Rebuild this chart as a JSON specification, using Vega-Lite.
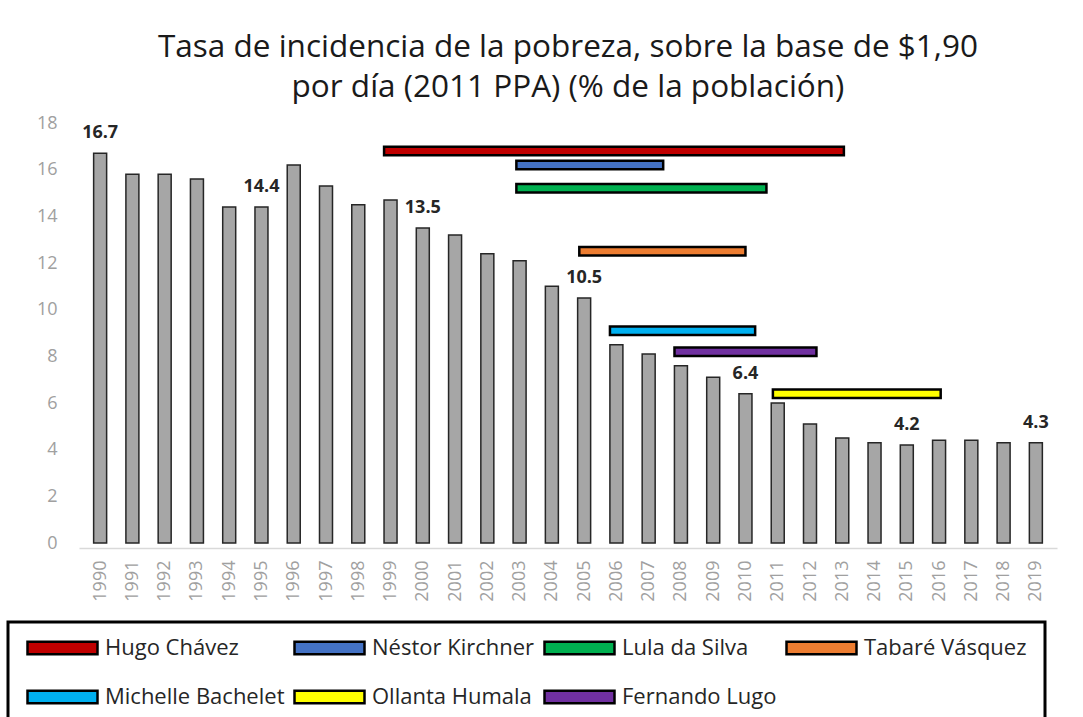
{
  "$schema": "https://vega.github.io/schema/vega-lite/v6.json",
  "autosize": {"type": "none"},
  "padding": {"left": 79, "top": 118, "right": 26, "bottom": 169},
  "width": 978,
  "height": 430,
  "background": "white",
  "config": {
    "view": {"stroke": null},
    "font": "Open Sans",
    "axis": {"labelOverlap": false},
    "axisX": {"labelOverlap": false},
    "legend": {"strokeWidth": 3}
  },
  "title": {
    "text": ["Tasa de incidencia de la pobreza, sobre la base de $1,90", "por día (2011 PPA) (% de la población)"],
    "fontSize": 31.5,
    "font": "Open Sans",
    "fontWeight": "normal",
    "color": "#1a1a1a",
    "anchor": "middle",
    "lineHeight": 40,
    "offset": 11
  },
  "datasets": {
    "pobreza": [
      {"anio": 1990, "tasa": 16.7}, {"anio": 1991, "tasa": 15.8}, {"anio": 1992, "tasa": 15.8},
      {"anio": 1993, "tasa": 15.6}, {"anio": 1994, "tasa": 14.4}, {"anio": 1995, "tasa": 14.4},
      {"anio": 1996, "tasa": 16.2}, {"anio": 1997, "tasa": 15.3}, {"anio": 1998, "tasa": 14.5},
      {"anio": 1999, "tasa": 14.7}, {"anio": 2000, "tasa": 13.5}, {"anio": 2001, "tasa": 13.2},
      {"anio": 2002, "tasa": 12.4}, {"anio": 2003, "tasa": 12.1}, {"anio": 2004, "tasa": 11.0},
      {"anio": 2005, "tasa": 10.5}, {"anio": 2006, "tasa": 8.5}, {"anio": 2007, "tasa": 8.1},
      {"anio": 2008, "tasa": 7.6}, {"anio": 2009, "tasa": 7.1}, {"anio": 2010, "tasa": 6.4},
      {"anio": 2011, "tasa": 6.0}, {"anio": 2012, "tasa": 5.1}, {"anio": 2013, "tasa": 4.5},
      {"anio": 2014, "tasa": 4.3}, {"anio": 2015, "tasa": 4.2}, {"anio": 2016, "tasa": 4.4},
      {"anio": 2017, "tasa": 4.4}, {"anio": 2018, "tasa": 4.3}, {"anio": 2019, "tasa": 4.3}
    ],
    "mandatos": [
      {"presidente": "Hugo Chávez", "anio": 1998.8, "fin": 2013.05, "nivel": 16.8},
      {"presidente": "Néstor Kirchner", "anio": 2002.9, "fin": 2007.45, "nivel": 16.2},
      {"presidente": "Lula da Silva", "anio": 2002.9, "fin": 2010.65, "nivel": 15.2},
      {"presidente": "Tabaré Vásquez", "anio": 2004.85, "fin": 2010.0, "nivel": 12.5},
      {"presidente": "Michelle Bachelet", "anio": 2005.8, "fin": 2010.3, "nivel": 9.1},
      {"presidente": "Fernando Lugo", "anio": 2007.8, "fin": 2012.2, "nivel": 8.2},
      {"presidente": "Ollanta Humala", "anio": 2010.85, "fin": 2016.05, "nivel": 6.4}
    ]
  },
  "encoding": {
    "x": {
      "field": "anio", "type": "quantitative", "title": null,
      "scale": {"domain": [1989.5, 2019.5], "nice": false, "zero": false},
      "axis": {
        "values": [1990,1991,1992,1993,1994,1995,1996,1997,1998,1999,2000,2001,2002,2003,2004,2005,2006,2007,2008,2009,2010,2011,2012,2013,2014,2015,2016,2017,2018,2019],
        "format": "d", "labelAngle": -90, "labelAlign": "right", "labelBaseline": "middle",
        "labelFontSize": 18, "labelColor": "#a0a0a0", "labelFont": "Open Sans",
        "ticks": false, "grid": false, "domainColor": "#d9d9d9", "domainWidth": 1.5,
        "labelPadding": 12, "title": null, "labelOverlap": false, "labelFlush": false, "labelBound": false,
        "labelSeparation": 0
      }
    }
  },
  "layer": [
    {
      "data": {"name": "pobreza"},
      "mark": {"type": "bar", "orient": "vertical", "width": 13, "fill": "#a6a6a6", "stroke": "#262626", "strokeWidth": 1.5},
      "encoding": {
        "y": {
          "field": "tasa", "type": "quantitative", "title": null,
          "scale": {"domain": [0, 18], "nice": false},
          "axis": {
            "values": [0,2,4,6,8,10,12,14,16,18],
            "domain": false, "ticks": false, "grid": false, "labelPadding": 22,
            "labelFontSize": 18, "labelColor": "#a0a0a0", "labelFont": "Open Sans", "title": null
          }
        }
      }
    },
    {
      "data": {"name": "pobreza"},
      "transform": [{"filter": {"field": "anio", "oneOf": [1990, 1995, 2000, 2005, 2010, 2015, 2019]}}],
      "mark": {"type": "text", "fontWeight": "bold", "fontSize": 18, "font": "Open Sans", "dy": -20, "color": "#262626", "baseline": "middle"},
      "encoding": {
        "y": {"field": "tasa", "type": "quantitative", "title": null},
        "text": {"field": "tasa", "type": "quantitative", "format": ".1f"}
      }
    },
    {
      "data": {"name": "mandatos"},
      "mark": {"type": "bar", "orient": "horizontal", "height": 8.5, "stroke": "black", "strokeWidth": 2.5, "opacity": 1},
      "encoding": {
        "x2": {"field": "fin"},
        "y": {"field": "nivel", "type": "quantitative", "title": null},
        "color": {
          "field": "presidente", "type": "nominal",
          "scale": {
            "domain": ["Hugo Chávez", "Néstor Kirchner", "Lula da Silva", "Tabaré Vásquez", "Michelle Bachelet", "Ollanta Humala", "Fernando Lugo"],
            "range": ["#c00000", "#4472c4", "#00b050", "#ed7d31", "#00b0f0", "#ffff00", "#7030a0"]
          },
          "legend": {
            "orient": "none", "legendX": -71, "legendY": 504,
            "columns": 4, "direction": "horizontal", "title": null,
            "symbolType": "M-1,-0.18H1V0.18H-1Z", "symbolSize": 4900,
            "symbolStrokeColor": "black", "symbolStrokeWidth": 2.5, "symbolOpacity": 1,
            "labelFontSize": 22, "labelFont": "Open Sans", "labelColor": "#262626",
            "labelOffset": 6, "columnPadding": 8, "rowPadding": 27, "clipHeight": 16,
            "padding": 18, "strokeColor": "black",
            "labelLimit": 300
          }
        }
      }
    }
  ]
}
